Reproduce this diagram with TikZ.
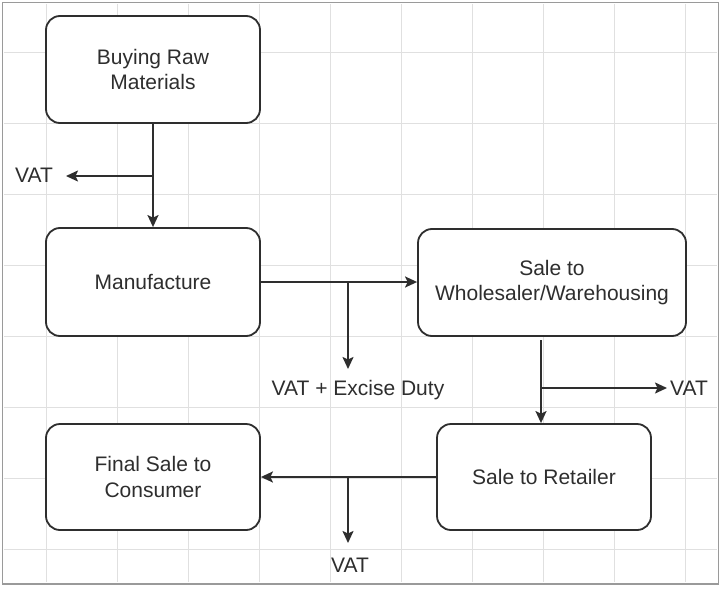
\documentclass[tikz,border=0pt]{standalone}
\usepackage{fontspec}
\setmainfont{Liberation Sans}
\usetikzlibrary{arrows.meta}
\definecolor{ink}{HTML}{2E2E2E}
\definecolor{gridc}{HTML}{E0E0E0}
\definecolor{framec}{HTML}{9A9A9A}
\tikzset{
  box/.style={draw=ink, line width=1.8pt, rounded corners=14pt, fill=white,
    align=center, text=ink, font=\fontsize{21}{25.5}\selectfont, inner sep=0pt},
  lbl/.style={text=ink, font=\fontsize{21}{25.5}\selectfont, inner sep=0pt, anchor=base},
  conn/.style={draw=ink, line width=1.8pt},
  arr/.style={conn, -{Stealth[length=12pt,width=11pt,inset=2.5pt]}},
}
\begin{document}
\begin{tikzpicture}[x=1pt,y=-1pt]
\useasboundingbox (0,0) rectangle (723,589);
\fill[white] (0,0) rectangle (723,589);
% grid
\foreach \gx in {46,117,188,259,330,401,472,543,614,685}
  \draw[gridc, line width=0.9pt] (\gx,4) -- (\gx,582);
\foreach \gy in {52,123,194,265,336,407,478,549}
  \draw[gridc, line width=0.9pt] (4,\gy) -- (717,\gy);
% frame
\draw[framec, line width=1.4pt] (2.5,2.5) rectangle (718.5,584);

% boxes
\node[box, minimum width=214pt, minimum height=107pt] (b1) at (153,69.5) {Buying Raw\\Materials};
\node[box, minimum width=214pt, minimum height=108pt] (b2) at (153,282) {Manufacture};
\node[box, minimum width=268pt, minimum height=107pt] (b3) at (552,282.5) {Sale to\\Wholesaler/Warehousing};
\node[box, minimum width=214pt, minimum height=106pt] (b4) at (544,477) {Sale to Retailer};
\node[box, minimum width=214pt, minimum height=106pt] (b5) at (153,477) {Final Sale to\\Consumer};

% labels
\node[lbl] (v1) at (34,182) {VAT};
\node[lbl] (v2) at (358,395) {VAT + Excise Duty};
\node[lbl] (v3) at (689,395) {VAT};
\node[lbl] (v4) at (350,572) {VAT};

% junctions and tips
\coordinate (j1) at (153,176);
\coordinate (t1) at (66,176);
\coordinate (j2) at (348,282);
\coordinate (t2) at (348,369);
\coordinate (s3) at (541,340);
\coordinate (j3) at (541,388);
\coordinate (t3) at (667,388);
\coordinate (j4) at (348,477);
\coordinate (t4) at (348,543);

% connectors
\draw[arr] (b1.south) -- (b2.north);
\draw[arr] (j1) -- (t1);
\draw[arr] (b2.east) -- (b2.east -| b3.west);
\draw[arr] (j2) -- (t2);
\draw[arr] (s3) -- (s3 |- b4.north);
\draw[arr] (j3) -- (t3);
\draw[arr] (b4.west) -- (b5.east);
\draw[arr] (j4) -- (t4);
\end{tikzpicture}
\end{document}
